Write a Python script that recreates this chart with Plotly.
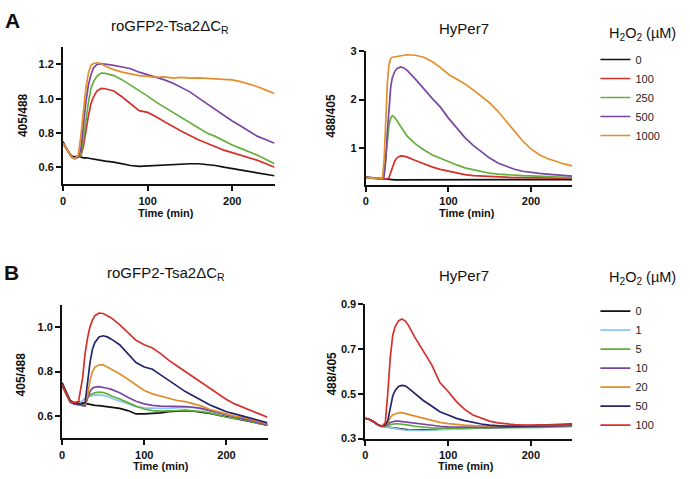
import plotly.graph_objects as go

W, H = 690, 479

# ---------------- Panel A data ----------------
tA = [0, 5, 10, 14, 18, 21, 24, 27, 30, 33, 36, 40, 45, 50, 60, 70, 80, 90, 100, 110,
      120, 130, 140, 150, 160, 170, 180, 190, 200, 210, 220, 230, 240, 250]
concA = ["0", "100", "250", "500", "1000"]
roA_0 = [0.75, 0.70, 0.665, 0.66, 0.665, 0.66, 0.655, 0.655, 0.652, 0.65, 0.648, 0.645, 0.64, 0.635,
         0.63, 0.62, 0.61, 0.605, 0.608, 0.61, 0.61, 0.615, 0.618, 0.62, 0.62, 0.615, 0.61, 0.60,
         0.592, 0.585, 0.575, 0.57, 0.56, 0.55]
roA_100 = [0.74, 0.70, 0.66, 0.65, 0.66, 0.665, 0.72, 0.82, 0.90, 0.97, 1.01, 1.045, 1.06, 1.058,
           1.045, 1.01, 0.97, 0.93, 0.92, 0.895, 0.865, 0.835, 0.81, 0.785, 0.76, 0.74, 0.72, 0.70,
           0.685, 0.67, 0.655, 0.64, 0.62, 0.60]
roA_250 = [0.74, 0.70, 0.66, 0.65, 0.66, 0.67, 0.76, 0.88, 0.98, 1.06, 1.10, 1.13, 1.15, 1.148,
           1.135, 1.11, 1.08, 1.05, 1.015, 0.98, 0.95, 0.92, 0.89, 0.86, 0.83, 0.80, 0.78, 0.755,
           0.73, 0.71, 0.69, 0.67, 0.645, 0.62]
roA_500 = [0.74, 0.70, 0.66, 0.65, 0.66, 0.70, 0.85, 0.98, 1.08, 1.14, 1.18, 1.20, 1.205, 1.203,
           1.195, 1.185, 1.175, 1.155, 1.14, 1.125, 1.11, 1.09, 1.065, 1.04, 1.005, 0.97, 0.94,
           0.905, 0.87, 0.84, 0.81, 0.78, 0.76, 0.74]
roA_1000 = [0.74, 0.70, 0.66, 0.65, 0.67, 0.78, 0.93, 1.06, 1.15, 1.195, 1.205, 1.21, 1.205, 1.19,
            1.17, 1.155, 1.145, 1.135, 1.13, 1.125, 1.128, 1.12, 1.125, 1.12, 1.122, 1.12, 1.118,
            1.115, 1.11, 1.10, 1.085, 1.07, 1.05, 1.03]

tHA = [0, 5, 10, 15, 20, 22, 24, 26, 28, 30, 32, 35, 38, 42, 46, 50, 60, 70, 80, 90, 100, 110,
       120, 130, 140, 150, 160, 170, 180, 190, 200, 210, 220, 230, 240, 250]
hyA_0 = [0.41, 0.40, 0.39, 0.38, 0.37, 0.37, 0.365, 0.365, 0.36, 0.36, 0.36, 0.355, 0.355, 0.355,
         0.35, 0.35, 0.35, 0.35, 0.35, 0.35, 0.35, 0.35, 0.35, 0.355, 0.355, 0.355, 0.355, 0.355,
         0.36, 0.36, 0.36, 0.36, 0.36, 0.36, 0.36, 0.36]
hyA_100 = [0.40, 0.395, 0.39, 0.38, 0.37, 0.37, 0.37, 0.37, 0.40, 0.50, 0.62, 0.74, 0.81, 0.845,
           0.84, 0.82, 0.75, 0.68, 0.62, 0.57, 0.53, 0.49, 0.46, 0.44, 0.43, 0.42, 0.41, 0.405,
           0.40, 0.40, 0.395, 0.395, 0.39, 0.39, 0.39, 0.39]
hyA_250 = [0.40, 0.395, 0.39, 0.38, 0.37, 0.45, 0.80, 1.20, 1.48, 1.62, 1.67, 1.63, 1.55, 1.44,
           1.34, 1.25, 1.09, 0.97, 0.87, 0.80, 0.72, 0.66, 0.60, 0.56, 0.52, 0.49, 0.47, 0.455,
           0.445, 0.44, 0.435, 0.43, 0.42, 0.415, 0.41, 0.40]
hyA_500 = [0.40, 0.395, 0.39, 0.38, 0.37, 0.42, 0.75, 1.35, 1.90, 2.25, 2.45, 2.58, 2.64, 2.67,
           2.65, 2.60, 2.42, 2.22, 2.03, 1.85, 1.62, 1.42, 1.22, 1.06, 0.92, 0.80, 0.70, 0.63,
           0.57, 0.53, 0.50, 0.485, 0.47, 0.455, 0.44, 0.43]
hyA_1000 = [0.40, 0.395, 0.39, 0.38, 0.38, 0.75, 1.55, 2.35, 2.72, 2.84, 2.87, 2.88, 2.89, 2.90,
            2.91, 2.92, 2.91, 2.87, 2.78, 2.66, 2.52, 2.42, 2.32, 2.20, 2.07, 1.93, 1.76, 1.56,
            1.35, 1.15, 0.99, 0.87, 0.79, 0.73, 0.68, 0.64]

# ---------------- Panel B data ----------------
tB = [0, 5, 10, 15, 20, 25, 28, 31, 34, 37, 40, 45, 50, 55, 60, 70, 80, 90, 100, 110, 120, 130,
      140, 150, 160, 170, 180, 190, 200, 210, 220, 230, 240, 250]
concB = ["0", "1", "5", "10", "20", "50", "100"]
roB_0 = [0.75, 0.71, 0.67, 0.66, 0.665, 0.66, 0.655, 0.655, 0.652, 0.65, 0.648, 0.647, 0.645,
         0.643, 0.64, 0.635, 0.625, 0.61, 0.61, 0.612, 0.615, 0.62, 0.622, 0.625, 0.622, 0.618,
         0.612, 0.605, 0.598, 0.59, 0.582, 0.575, 0.567, 0.56]
roB_1 = [0.735, 0.70, 0.66, 0.655, 0.655, 0.67, 0.68, 0.685, 0.69, 0.692, 0.695, 0.695, 0.693,
         0.688, 0.68, 0.668, 0.655, 0.643, 0.637, 0.635, 0.635, 0.635, 0.637, 0.64, 0.638, 0.633,
         0.625, 0.615, 0.605, 0.598, 0.59, 0.58, 0.57, 0.565]
roB_5 = [0.74, 0.70, 0.665, 0.655, 0.65, 0.645, 0.645, 0.685, 0.695, 0.70, 0.705, 0.708, 0.706,
         0.70, 0.69, 0.677, 0.66, 0.645, 0.632, 0.625, 0.623, 0.623, 0.625, 0.627, 0.625, 0.62,
         0.615, 0.605, 0.595, 0.59, 0.585, 0.575, 0.565, 0.558]
roB_10 = [0.74, 0.70, 0.665, 0.655, 0.65, 0.645, 0.645, 0.68, 0.71, 0.725, 0.73, 0.732, 0.73,
          0.725, 0.72, 0.705, 0.685, 0.667, 0.655, 0.648, 0.645, 0.645, 0.645, 0.643, 0.64, 0.635,
          0.625, 0.615, 0.605, 0.598, 0.59, 0.58, 0.57, 0.56]
roB_20 = [0.74, 0.70, 0.665, 0.655, 0.655, 0.655, 0.655, 0.69, 0.76, 0.80, 0.82, 0.83, 0.83, 0.82,
          0.81, 0.79, 0.765, 0.74, 0.715, 0.70, 0.69, 0.68, 0.67, 0.665, 0.655, 0.645, 0.63, 0.62,
          0.61, 0.60, 0.595, 0.585, 0.575, 0.565]
roB_50 = [0.74, 0.70, 0.665, 0.655, 0.655, 0.655, 0.66, 0.75, 0.84, 0.90, 0.93, 0.955, 0.96, 0.955,
          0.945, 0.92, 0.88, 0.84, 0.82, 0.81, 0.785, 0.76, 0.735, 0.71, 0.69, 0.67, 0.65, 0.635,
          0.62, 0.61, 0.60, 0.59, 0.58, 0.57]
roB_100 = [0.74, 0.70, 0.665, 0.66, 0.665, 0.77, 0.88, 0.95, 1.00, 1.03, 1.05, 1.062, 1.06, 1.05,
           1.04, 1.01, 0.975, 0.94, 0.92, 0.905, 0.88, 0.85, 0.825, 0.80, 0.775, 0.75, 0.725, 0.70,
           0.675, 0.655, 0.64, 0.625, 0.61, 0.595]

tHB = [0, 5, 10, 15, 20, 24, 27, 30, 33, 36, 40, 44, 48, 52, 60, 70, 80, 90, 100, 110, 120, 130,
       140, 150, 160, 170, 180, 190, 200, 210, 220, 230, 240, 250]
hyB_0 = [0.39, 0.385, 0.375, 0.362, 0.355, 0.352, 0.35, 0.35, 0.348, 0.347, 0.345, 0.343, 0.34,
         0.339, 0.338, 0.338, 0.34, 0.342, 0.342, 0.344, 0.345, 0.347, 0.348, 0.35, 0.352, 0.353,
         0.355, 0.356, 0.357, 0.36, 0.362, 0.363, 0.364, 0.365]
hyB_1 = [0.39, 0.385, 0.375, 0.362, 0.355, 0.352, 0.35, 0.35, 0.348, 0.345, 0.342, 0.34, 0.338,
         0.337, 0.336, 0.336, 0.337, 0.338, 0.34, 0.342, 0.343, 0.345, 0.346, 0.348, 0.35, 0.35,
         0.351, 0.352, 0.353, 0.354, 0.355, 0.355, 0.356, 0.356]
hyB_5 = [0.39, 0.385, 0.375, 0.362, 0.355, 0.355, 0.36, 0.363, 0.365, 0.366, 0.366, 0.365, 0.362,
         0.36, 0.355, 0.35, 0.348, 0.347, 0.347, 0.347, 0.347, 0.347, 0.347, 0.348, 0.348, 0.348,
         0.348, 0.348, 0.349, 0.35, 0.351, 0.352, 0.353, 0.354]
hyB_10 = [0.39, 0.385, 0.375, 0.362, 0.355, 0.36, 0.365, 0.372, 0.376, 0.378, 0.378, 0.376, 0.374,
          0.372, 0.368, 0.362, 0.358, 0.355, 0.352, 0.351, 0.35, 0.35, 0.35, 0.35, 0.35, 0.351,
          0.352, 0.353, 0.354, 0.355, 0.356, 0.357, 0.358, 0.358]
hyB_20 = [0.39, 0.385, 0.375, 0.362, 0.355, 0.36, 0.37, 0.395, 0.405, 0.41, 0.415, 0.416, 0.413,
          0.408, 0.40, 0.39, 0.38, 0.372, 0.367, 0.362, 0.36, 0.358, 0.357, 0.357, 0.357, 0.357,
          0.358, 0.358, 0.359, 0.36, 0.36, 0.36, 0.36, 0.36]
hyB_50 = [0.39, 0.385, 0.375, 0.362, 0.355, 0.36, 0.38, 0.44, 0.49, 0.515, 0.532, 0.537, 0.535,
          0.525, 0.50, 0.47, 0.445, 0.42, 0.405, 0.39, 0.38, 0.372, 0.365, 0.36, 0.357, 0.355,
          0.355, 0.356, 0.357, 0.358, 0.359, 0.36, 0.36, 0.36]
hyB_100 = [0.39, 0.385, 0.375, 0.36, 0.355, 0.37, 0.50, 0.66, 0.76, 0.80, 0.825, 0.833, 0.825,
           0.805, 0.75, 0.69, 0.63, 0.55, 0.51, 0.465, 0.43, 0.405, 0.39, 0.378, 0.37, 0.365,
           0.362, 0.36, 0.36, 0.36, 0.36, 0.36, 0.36, 0.36]

colorsA = ["#111111", "#d3312a", "#63ae3c", "#7b46a2", "#e38f2c"]
colorsB = ["#111111", "#8cc7ef", "#5dae3a", "#7b46a2", "#e08e2c", "#25246d", "#d3312a"]

FONT = "Liberation Sans, Arial, sans-serif"


def px(x):
    return x / W


def py(y):
    return 1 - y / H


fig = go.Figure()

roA = [roA_0, roA_100, roA_250, roA_500, roA_1000]
hyA = [hyA_0, hyA_100, hyA_250, hyA_500, hyA_1000]
roB = [roB_0, roB_1, roB_5, roB_10, roB_20, roB_50, roB_100]
hyB = [hyB_0, hyB_1, hyB_5, hyB_10, hyB_20, hyB_50, hyB_100]

LW = 1.7
for i, c in enumerate(concA):
    fig.add_trace(go.Scatter(x=tA, y=roA[i], mode="lines", name=c, legend="legend",
                             line=dict(color=colorsA[i], width=LW), xaxis="x", yaxis="y",
                             showlegend=True))
    fig.add_trace(go.Scatter(x=tHA, y=hyA[i], mode="lines", name=c, legend="legend",
                             line=dict(color=colorsA[i], width=LW), xaxis="x2", yaxis="y2",
                             showlegend=False))
for i, c in enumerate(concB):
    fig.add_trace(go.Scatter(x=tB, y=roB[i], mode="lines", name=c, legend="legend2",
                             line=dict(color=colorsB[i], width=LW), xaxis="x3", yaxis="y3",
                             showlegend=True))
    fig.add_trace(go.Scatter(x=tHB, y=hyB[i], mode="lines", name=c, legend="legend2",
                             line=dict(color=colorsB[i], width=LW), xaxis="x4", yaxis="y4",
                             showlegend=False))

tickfont = dict(family=FONT, size=11, color="#111", weight="bold")
axcommon = dict(showline=True, linecolor="#111", linewidth=2, ticks="outside", ticklen=5,
                tickwidth=2, tickcolor="#111", showgrid=False, zeroline=False,
                tickfont=tickfont, fixedrange=True)

xcommon = dict(axcommon, range=[0, 250], tickvals=[0, 100, 200])

fig.update_layout(
    width=W, height=H, margin=dict(l=0, r=0, t=0, b=0),
    paper_bgcolor="white", plot_bgcolor="white",
    xaxis=dict(xcommon, domain=[px(60.3), px(272.7)], anchor="y"),
    yaxis=dict(axcommon, domain=[py(182.9), py(42.4)], anchor="x", range=[0.5, 1.3],
               tickvals=[0.6, 0.8, 1.0, 1.2], tickformat=".1f"),
    xaxis2=dict(xcommon, domain=[px(364.5), px(571.7)], anchor="y2"),
    yaxis2=dict(axcommon, domain=[py(183.5), py(46)], anchor="x2", range=[0.25, 3.0],
                tickvals=[1, 2, 3], tickformat="d"),
    xaxis3=dict(xcommon, domain=[px(59.3), px(265.7)], anchor="y3"),
    yaxis3=dict(axcommon, domain=[py(443.6), py(306.2)], anchor="x3", range=[0.5, 1.1],
                tickvals=[0.6, 0.8, 1.0], tickformat=".1f"),
    xaxis4=dict(xcommon, domain=[px(364), px(571.7)], anchor="y4"),
    yaxis4=dict(axcommon, domain=[py(443.7), py(305.7)], anchor="x4", range=[0.3, 0.9],
                tickvals=[0.3, 0.5, 0.7, 0.9], tickformat=".1f"),
    legend=dict(x=px(595), y=py(40), xanchor="left", yanchor="top",
                font=dict(family=FONT, size=11, color="#222"), bgcolor="rgba(0,0,0,0)",
                borderwidth=0, traceorder="normal"),
    legend2=dict(x=px(595), y=py(298), xanchor="left", yanchor="top",
                 font=dict(family=FONT, size=11, color="#222"), bgcolor="rgba(0,0,0,0)",
                 borderwidth=0, traceorder="normal"),
    showlegend=True,
)

ann = []


def text(x, y, s, size, bold=False, angle=0, xanchor="center"):
    ann.append(dict(x=px(x), y=py(y), xref="paper", yref="paper", text=s, showarrow=False,
                    xanchor=xanchor, yanchor="middle", textangle=angle,
                    font=dict(family=FONT, size=size, color="#111",
                              weight="bold" if bold else "normal")))


# panel letters
text(9.5, 15, "A", 21, bold=True)
text(9, 273.5, "B", 21, bold=True)
# panel titles
text(168, 21.5, "roGFP2-Tsa2ΔC<sub>R</sub>", 15)
text(463, 23.5, "HyPer7", 15)
text(164, 274, "roGFP2-Tsa2ΔC<sub>R</sub>", 15)
text(463, 276, "HyPer7", 15)
# y-axis titles
text(20, 112, "405/488", 12, bold=True, angle=-90)
text(330, 113, "488/405", 12, bold=True, angle=-90)
text(18.5, 377.5, "405/488", 12, bold=True, angle=-90)
text(329.5, 377, "488/405", 12, bold=True, angle=-90)
# x-axis titles
text(164, 212.5, "Time (min)", 11, bold=True)
text(466, 212.5, "Time (min)", 11, bold=True)
text(159, 471.5, "Time (min)", 11, bold=True)
text(465, 471.5, "Time (min)", 11, bold=True)
# legend titles
text(607, 29, "H<sub>2</sub>O<sub>2</sub> (µM)", 14.5, xanchor="left")
text(607, 279, "H<sub>2</sub>O<sub>2</sub> (µM)", 14.5, xanchor="left")

fig.update_layout(annotations=ann)

post = ("document.body.style.margin='0';document.body.style.overflow='hidden';"
        "var d=document.getElementsByClassName('plotly-graph-div')[0];"
        "d.style.position='fixed';d.style.left='0px';d.style.top='0px';")
fig.write_html("out.html", post_script=post, config={"displayModeBar": False})
